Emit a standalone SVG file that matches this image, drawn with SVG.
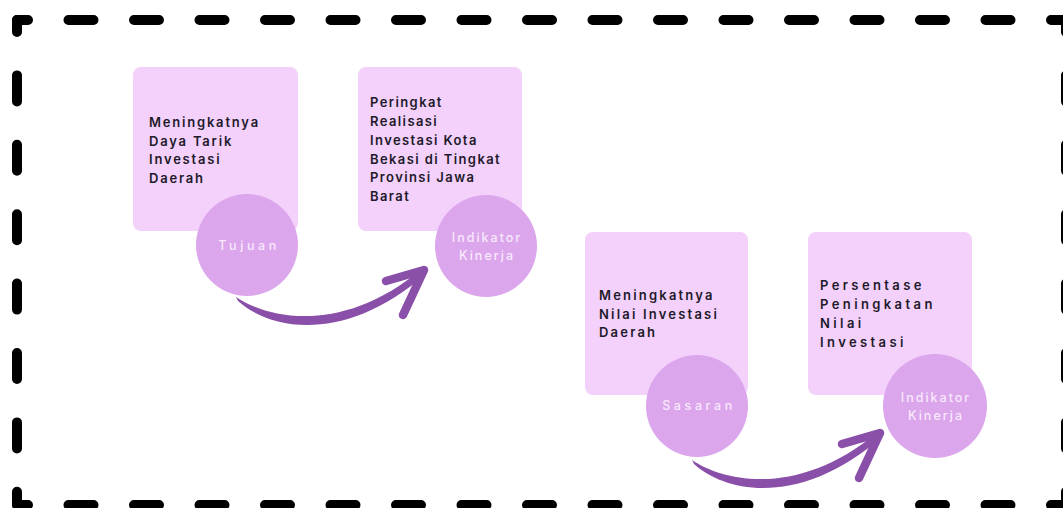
<svg xmlns="http://www.w3.org/2000/svg" width="1063" height="508" viewBox="0 0 1063 508">
<style>
.bg{fill:#ffffff}
.h{fill:none;stroke:#000;stroke-width:10;stroke-linecap:round;stroke-dasharray:25 40.5;stroke-dashoffset:14}
.v{fill:none;stroke:#000;stroke-width:10;stroke-linecap:round;stroke-dasharray:26 43.4;stroke-dashoffset:14}
.box{fill:#F3D1FB}
.circ{fill:#DCA6EC}
.t{font-family:Inter,"Liberation Sans",sans-serif;font-size:13px;font-weight:600;fill:#1E1A2A}
.c{font-family:Inter,"Liberation Sans",sans-serif;font-size:12.5px;font-weight:500;fill:#F8E9FC;text-anchor:middle}
.shaft{fill:#8A4FA8}
.head{fill:none;stroke:#8A4FA8;stroke-width:8.5;stroke-linecap:round;stroke-linejoin:round}
</style>
<rect class="bg" x="0" y="0" width="1063" height="508"/>
<g id="border">
<path class="h" d="M17,20 H1066"/>
<path class="h" d="M17,505 H1066"/>
<path class="v" d="M17,20 V505"/>
<path class="v" d="M1066,20 V505"/>
</g>
<g id="tujuan">
<rect class="box" x="133" y="67" width="165" height="164" rx="8"/>
<text class="t" style="letter-spacing:1.8px"><tspan x="149" y="127">Meningkatnya</tspan><tspan x="149" y="145.5">Daya Tarik</tspan><tspan x="149" y="164">Investasi</tspan><tspan x="149" y="182.5">Daerah</tspan></text>
<circle class="circ" cx="247" cy="245" r="51"/>
<text class="c" x="249" y="249.5" style="letter-spacing:3.6px">Tujuan</text>
</g>
<g id="indikator1">
<rect class="box" x="358" y="67" width="164" height="164" rx="8"/>
<text class="t" style="letter-spacing:1.4px"><tspan x="370" y="107">Peringkat</tspan><tspan x="370" y="126">Realisasi</tspan><tspan x="370" y="145">Investasi Kota</tspan><tspan x="370" y="163.5">Bekasi di Tingkat</tspan><tspan x="370" y="182">Provinsi Jawa</tspan><tspan x="370" y="201">Barat</tspan></text>
<circle class="circ" cx="486" cy="246" r="51"/>
<text class="c" style="letter-spacing:2px"><tspan x="487" y="241.5">Indikator</tspan><tspan x="487" y="259.5">Kinerja</tspan></text>
</g>
<g id="sasaran">
<rect class="box" x="585" y="232" width="163" height="163" rx="8"/>
<text class="t" style="letter-spacing:2.2px"><tspan x="599" y="300">Meningkatnya</tspan><tspan x="599" y="318.5">Nilai Investasi</tspan><tspan x="599" y="337">Daerah</tspan></text>
<circle class="circ" cx="697" cy="406" r="51"/>
<text class="c" x="699" y="410" style="letter-spacing:3.6px">Sasaran</text>
</g>
<g id="indikator2">
<rect class="box" x="808" y="232" width="164" height="163" rx="8"/>
<text class="t" style="letter-spacing:3.4px"><tspan x="820" y="290">Persentase</tspan><tspan x="820" y="309">Peningkatan</tspan><tspan x="820" y="328">Nilai</tspan><tspan x="820" y="347">Investasi</tspan></text>
<circle class="circ" cx="935" cy="406" r="52"/>
<text class="c" style="letter-spacing:2px"><tspan x="936" y="401.5">Indikator</tspan><tspan x="936" y="419.5">Kinerja</tspan></text>
</g>
<g id="connectors">
<path class="shaft" d="M238,301 C270,330 345,345 427,273 L423,268 C345,334 270,320 236,297 Z"/>
<path class="head" d="M386,281 L424,270 L403,315"/>
<path class="shaft" transform="translate(456,163)" d="M238,301 C270,330 345,345 427,273 L423,268 C345,334 270,320 236,297 Z"/>
<path class="head" transform="translate(456,163)" d="M386,281 L424,270 L403,315"/>
</g>
</svg>
